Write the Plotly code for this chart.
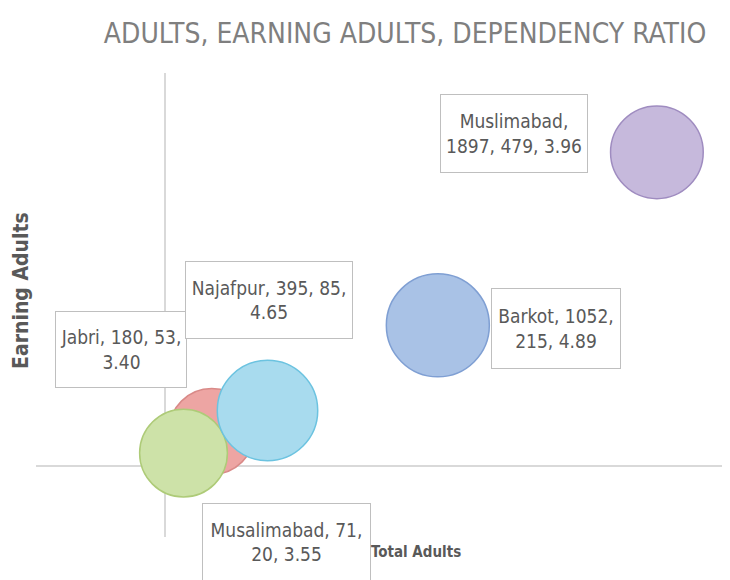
import plotly.graph_objects as go

# Data
villages = ["Jabri", "Musalimabad", "Najafpur", "Barkot", "Muslimabad"]
total_adults = [180, 71, 395, 1052, 1897]
earning_adults = [53, 20, 85, 215, 479]
dependency_ratio = [3.40, 3.55, 4.65, 4.89, 3.96]
label_lines = [
    ("Jabri, 180, 53,", "3.40"),
    ("Musalimabad, 71,", "20, 3.55"),
    ("Najafpur, 395, 85,", "4.65"),
    ("Barkot, 1052,", "215, 4.89"),
    ("Muslimabad,", "1897, 479, 3.96"),
]

# Styles
fill_colors = ["#eda5a3", "#cde2a8", "#a8dbee", "#a9c2e6", "#c6b9dc"]
line_colors = ["#d98a88", "#aecb78", "#6cc3e0", "#7f9fd3", "#9f8cc0"]
# label box geometry (pixel offsets from bubble centre, box sizes)
label_shift = [(-91, 82), (103, -89), (1, 111), (118, -3), (-143, 19)]
label_box = [(132, 77), (169, 78), (168, 78), (130, 81), (148, 79)]

max_d = 103
sizeref = 2 * max(dependency_ratio) / (max_d ** 2)

# page has an 8px body margin; figure is sized to the visible area
W, H = 722, 572
OFF = 8

fig = go.Figure()
fig.add_trace(go.Scatter(
    x=total_adults,
    y=earning_adults,
    mode="markers",
    marker=dict(
        size=dependency_ratio,
        sizemode="area",
        sizeref=sizeref,
        color=fill_colors,
        opacity=1,
        line=dict(color=line_colors, width=1.5),
    ),
    hoverinfo="skip",
    showlegend=False,
))

TXT = "#595959"
FONT = "Liberation Sans Narrow, DejaVu Sans Condensed, Lato, sans-serif"
annotations = []
for i in range(len(villages)):
    w, h = label_box[i]
    dx, dy = label_shift[i]
    annotations.append(dict(
        x=total_adults[i], y=earning_adults[i], xref="x", yref="y",
        text="<br>".join(label_lines[i]),
        showarrow=False, xshift=dx, yshift=dy,
        width=w - 10, height=h - 10, align="center", valign="middle",
        bgcolor="white", bordercolor="#bfbfbf", borderwidth=1, borderpad=4,
        font=dict(family=FONT, size=19, color=TXT),
    ))

annotations.append(dict(
    x=(416 - 36) / 694, y=(537 - 552) / 464, xref="paper", yref="paper",
    xanchor="center", yanchor="middle",
    text="<b>Total Adults</b>", showarrow=False,
    font=dict(family=FONT, size=15, color=TXT),
))
annotations.append(dict(
    x=(21 - 36) / 694, y=(537 - 291) / 464, xref="paper", yref="paper",
    xanchor="center", yanchor="middle",
    text="<b>Earning Adults</b>", showarrow=False, textangle=-90,
    font=dict(family=FONT, size=21, color=TXT),
))

fig.update_layout(
    width=W, height=H,
    margin=dict(l=36 - OFF, r=0, t=73 - OFF, b=H - (537 - OFF)),
    paper_bgcolor="white", plot_bgcolor="white",
    title=dict(
        text="ADULTS, EARNING ADULTS, DEPENDENCY RATIO",
        x=(405 - OFF) / W, xanchor="center", y=1 - (33 - OFF) / H, yanchor="middle",
        font=dict(family=FONT, size=28, color="#7f7f7f"),
    ),
    xaxis=dict(range=[-498, 2179], showgrid=False, showticklabels=False,
               zeroline=True, zerolinecolor="#d9d9d9", zerolinewidth=1.5,
               showline=False, ticks=""),
    yaxis=dict(range=[-108, 600], showgrid=False, showticklabels=False,
               zeroline=True, zerolinecolor="#d9d9d9", zerolinewidth=1.5,
               showline=False, ticks=""),
    annotations=annotations,
)

fig.write_html("out.html")
